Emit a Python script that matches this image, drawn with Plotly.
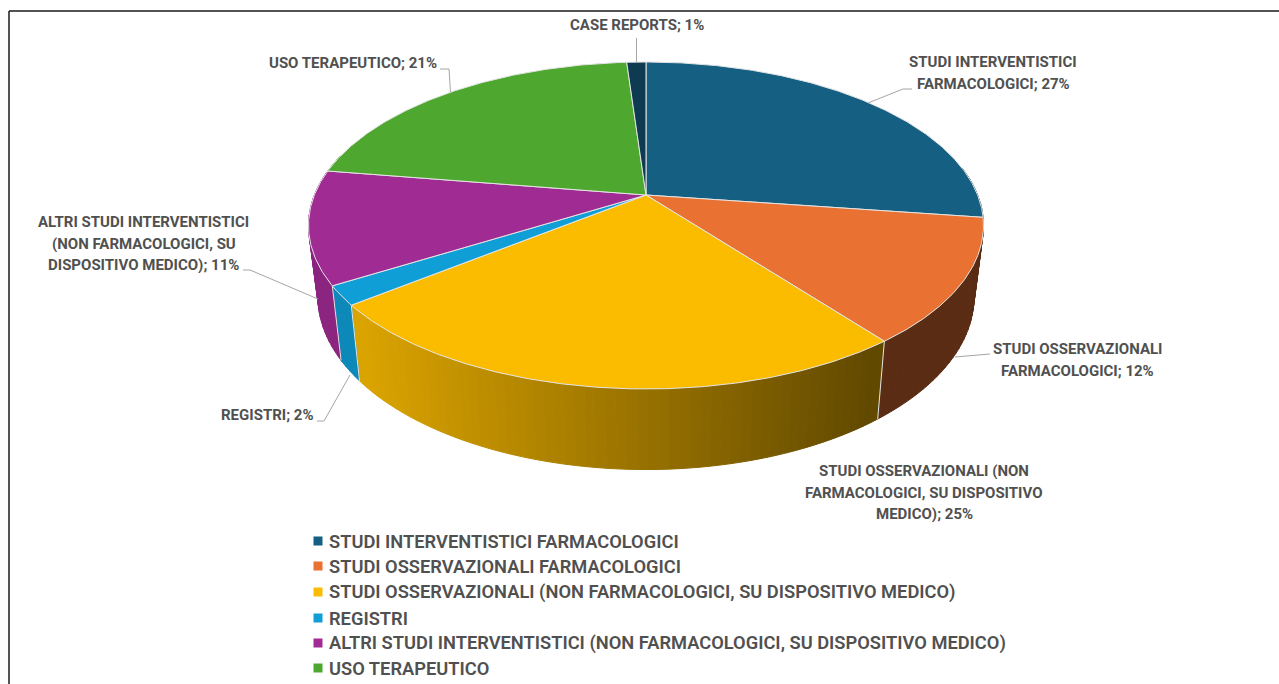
'''Italian study-type breakdown, drawn as a tilted 3D pie on pixel-scaled axes'''
import math
import plotly.graph_objects as go

# slice data, clockwise from 12 o'clock
categories = [
    'STUDI INTERVENTISTICI FARMACOLOGICI',
    'STUDI OSSERVAZIONALI FARMACOLOGICI',
    'STUDI OSSERVAZIONALI (NON FARMACOLOGICI, SU DISPOSITIVO MEDICO)',
    'REGISTRI',
    'ALTRI STUDI INTERVENTISTICI (NON FARMACOLOGICI, SU DISPOSITIVO MEDICO)',
    'USO TERAPEUTICO',
    'CASE REPORTS',
]
shares = [27.2, 12.3, 24.9, 1.9, 11.2, 21.4, 1.1]
colors = ['#156082', '#E97132', '#FBBC00', '#0F9ED5', '#A02B93', '#4EA72E', '#0E3A52']

# data label text, line by line, wrapped as in the original
label_lines = [
    ['STUDI INTERVENTISTICI', 'FARMACOLOGICI; 27%'],
    ['STUDI OSSERVAZIONALI', 'FARMACOLOGICI; 12%'],
    ['STUDI OSSERVAZIONALI (NON', 'FARMACOLOGICI, SU DISPOSITIVO', 'MEDICO); 25%'],
    ['REGISTRI; 2%'],
    ['ALTRI STUDI INTERVENTISTICI', '(NON FARMACOLOGICI, SU', 'DISPOSITIVO MEDICO); 11%'],
    ['USO TERAPEUTICO; 21%'],
    ['CASE REPORTS; 1%'],
]
label_x = [993, 1077, 924, 267.5, 143.5, 353, 636.5]
label_y = [62, 349, 471, 415, 222, 63, 25]
label_gap = 21.7

leaders = [
    ([868, 903, 912], [103, 89, 89]),
    ([955, 990], [357, 354]),
    ([], []),
    ([350, 324, 317], [375, 421, 421]),
    ([318, 250, 243], [299, 270, 270]),
    ([450.5, 449, 440], [92, 69, 69]),
    ([636.5, 636.5], [63, 38]),
]

legend_rows = [541, 566, 592, 618, 643, 668]

FONT = 'Roboto'
TEXT = '#505050'

# perspective of the top face
CX, CY, A, B, K = 646, 195, 331.6, 157.8, 0.1865


def top_point(deg):
    u, v = math.sin(math.radians(deg)), math.cos(math.radians(deg))
    d = 1 + K * v
    return CX + A * u / d, CY - B * v / d


def bottom_point(deg):
    x, y = top_point(deg)
    return CX + 0.972 * (x - CX), 1.058 * y + 58


def shade(hex_color, x):
    f = max(0.39, min(0.87, 0.87 - 0.48 * (x - 360) / 510))
    r, g, b = (int(hex_color[i:i + 2], 16) for i in (1, 3, 5))
    return f'rgb({r * f:.0f},{g * f:.0f},{b * f:.0f})'


def arc(start, end):
    n = max(2, int((end - start) / 0.5) + 1)
    return [start + (end - start) * i / (n - 1) for i in range(n)]


fig = go.Figure()

edges = [0]
for s in shares:
    edges.append(edges[-1] + s / sum(shares) * 360)

# rim first, the top face covers whatever is behind it
for i, col in enumerate(colors):
    angles = arc(edges[i], edges[i + 1])
    for a0, a1 in zip(angles[::3], angles[3::3] + [angles[-1]]):
        if a0 == a1 or not 80 < a1 or not a0 < 285:
            continue
        p = [top_point(a0), top_point(a1), bottom_point(a1), bottom_point(a0), top_point(a0)]
        c = shade(col, (p[0][0] + p[1][0]) / 2)
        fig.add_trace(go.Scatter(
            x=[q[0] for q in p], y=[q[1] for q in p], mode='lines', fill='toself',
            fillcolor=c, line={'color': c, 'width': 1}, hoverinfo='skip', showlegend=False))

# light seams on the rim between slices
for e in edges[2:5]:
    t, b = top_point(e), bottom_point(e)
    fig.add_trace(go.Scatter(
        x=[t[0], b[0]], y=[t[1], b[1]], mode='lines',
        line={'color': '#E4E4E4', 'width': 1}, hoverinfo='skip', showlegend=False))

# top face
for i, col in enumerate(colors):
    pts = [top_point(a) for a in arc(edges[i], edges[i + 1])]
    xs = [CX] + [q[0] for q in pts] + [CX]
    ys = [CY] + [q[1] for q in pts] + [CY]
    fig.add_trace(go.Scatter(
        x=xs, y=ys, mode='lines', fill='toself', fillcolor=col,
        line={'color': '#E4E4E4', 'width': 1}, name=categories[i],
        hoverinfo='name', showlegend=False))

for lx, ly in leaders:
    if lx:
        fig.add_trace(go.Scatter(
            x=lx, y=ly, mode='lines', line={'color': '#A6A6A6', 'width': 1},
            hoverinfo='skip', showlegend=False))

# legend rows (case reports row falls off the page in the original)
fig.add_trace(go.Scatter(
    x=[318] * len(legend_rows), y=legend_rows, mode='markers',
    marker={'symbol': 'square', 'size': 9, 'color': colors[:len(legend_rows)]},
    hoverinfo='skip', showlegend=False))

annotations = []
for lines, x, y in zip(label_lines, label_x, label_y):
    for j, line in enumerate(lines):
        annotations.append({
            'x': x, 'y': y + j * label_gap, 'text': line, 'showarrow': False,
            'xanchor': 'center', 'yanchor': 'middle',
            'font': {'family': FONT, 'size': 15, 'color': TEXT, 'weight': 700}})
for name, y in zip(categories, legend_rows):
    annotations.append({
        'x': 326.5, 'y': y, 'text': name, 'showarrow': False,
        'xanchor': 'left', 'yanchor': 'middle',
        'font': {'family': FONT, 'size': 18.3, 'color': TEXT, 'weight': 600}})

fig.update_layout(
    width=1279, height=684,
    margin={'l': 0, 'r': 0, 't': 0, 'b': 0},
    paper_bgcolor='white', plot_bgcolor='white',
    xaxis={'range': [0, 1279], 'visible': False, 'fixedrange': True},
    yaxis={'range': [684, 0], 'visible': False, 'fixedrange': True},
    annotations=annotations,
    shapes=[
        {'type': 'line', 'x0': 9, 'x1': 1279, 'y0': 11, 'y1': 11, 'line': {'color': '#1A1A1A', 'width': 1.5}},
        {'type': 'line', 'x0': 9, 'x1': 9, 'y0': 11, 'y1': 684, 'line': {'color': '#1A1A1A', 'width': 1.5}},
    ],
)

# page has a default 8px body margin that would push the picture off
fig.write_html("out.html", config={'displayModeBar': False},
               post_script="document.body.style.margin='0';")
